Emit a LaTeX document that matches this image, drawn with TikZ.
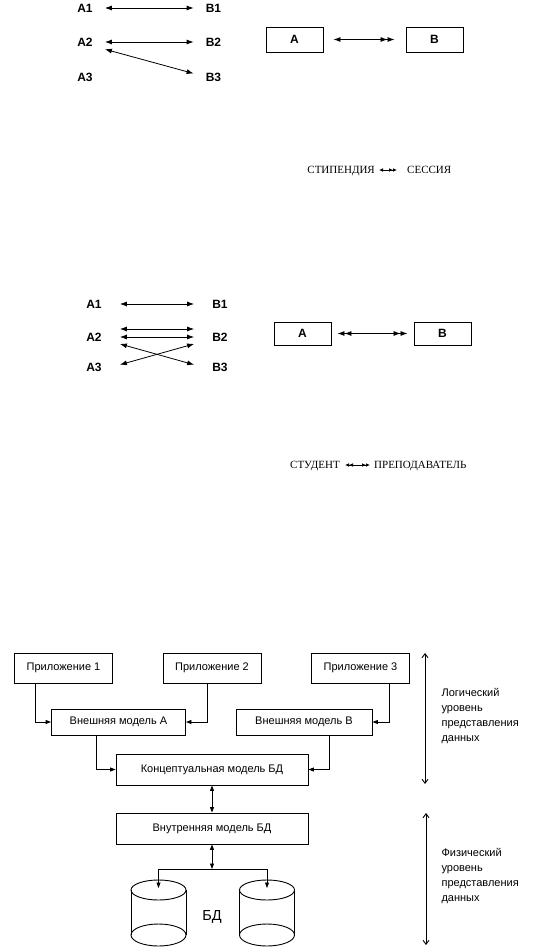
\documentclass[tikz,border=0pt]{standalone}
\usepackage{fontspec}
\setmainfont{Liberation Sans}
\newfontfamily\cyrserif{Liberation Serif}
\usepackage{tikz}
\usetikzlibrary{
    arrows.meta
}
\tikzset{
    lbl/.style={
        font=\fontsize{12}{14}\selectfont\bfseries,
        inner xsep=12pt,
        inner ysep=3.5pt,
        text height=8.6pt,
        text depth=0pt
    },
    abox/.style={
        rectangle,
        draw=black,
        line width=0.9pt,
        minimum width=57pt,
        font=\fontsize{12}{14}\selectfont\bfseries
    },
    word/.style={
        inner sep=0pt,
        text height=7pt,
        text depth=0pt,
        font=\cyrserif\fontsize{11}{13}\selectfont
    },
    link/.style={
        >={Latex[length=7pt,width=5pt]},
        line width=0.8pt
    },
    wordlink/.style={
        >={Latex[length=4pt,width=3.5pt]},
        line width=0.7pt
    },
    block/.style={
        rectangle,
        draw=black,
        line width=0.9pt,
        align=center,
        font=\fontsize{11}{13}\selectfont
    },
    conn/.style={
        -{Triangle[length=5.5pt,width=4pt]},
        line width=0.9pt
    },
    biconn/.style={
        {Triangle[length=5.5pt,width=4pt]}-{Triangle[length=5.5pt,width=4pt]},
        line width=0.9pt
    },
    span/.style={
        {Straight Barb[length=4pt,width=6pt]}-{Straight Barb[length=4pt,width=6pt]},
        line width=0.9pt
    },
    side/.style={
        align=left,
        font=\fontsize{11}{15}\selectfont
    },
    cyl/.style={
        line width=0.9pt
    }
}

\begin{document}
\begin{tikzpicture}[x=1pt,y=-1pt]
\useasboundingbox (0,0) rectangle (543,949);

% one to one
\node[lbl] (a1) at (85,8) {A1};
\node[lbl] (a2) at (85,42) {A2};
\node[lbl] (a3) at (85,77) {A3};
\node[lbl] (b1) at (213.5,8) {B1};
\node[lbl] (b2) at (213.5,42) {B2};
\node[lbl] (b3) at (213.5,77) {B3};
\draw[link, <->] (a1) -- (b1);
\draw[link, <->] (a2) -- (b2);
\draw[link, <->] (a2.-20) -- (b3.170);

\node[abox, minimum height=25pt] (boxa) at (294.5,39.5) {A};
\node[abox, minimum height=25pt] (boxb) at (434.5,39.5) {B};
\draw[link, <->>, shorten <=10pt, shorten >=11pt] (boxa) -- (boxb);

\node[word, anchor=east] (grant) at (375,170) {СТИПЕНДИЯ};
\node[word, anchor=west] (exam) at (407,170) {СЕССИЯ};
\draw[wordlink, <->>, shorten <=4pt, shorten >=10pt] (grant) -- (exam);

% many to many
\begin{scope}[lbl/.append style={inner xsep=18pt}]
\node[lbl] (c1) at (94,304) {A1};
\node[lbl] (c2) at (94,337) {A2};
\node[lbl] (c3) at (94,367) {A3};
\node[lbl] (d1) at (220,304) {B1};
\node[lbl] (d2) at (220,337) {B2};
\node[lbl] (d3) at (220,367) {B3};
\end{scope}
\draw[link, <->] (c1) -- (d1);
\draw[link, <->] ([yshift=8pt]c2.east) -- ([yshift=8pt]d2.west);
\draw[link, <->] (c2) -- (d2);
\draw[link, <->] (c2.-15) -- (d3.175);
\draw[link, <->] (c3.5) -- (d2.195);

\node[abox, minimum height=23pt] (boxc) at (302.5,333.5) {A};
\node[abox, minimum height=23pt] (boxd) at (442.5,333.5) {B};
\draw[link, <<->>, shorten <=6pt, shorten >=6pt] (boxc) -- (boxd);

\node[word, anchor=east] (stud) at (340,465) {СТУДЕНТ};
\node[word, anchor=west] (teach) at (374,465) {ПРЕПОДАВАТЕЛЬ};
\draw[wordlink, <<->>, shorten <=5pt, shorten >=4pt] (stud) -- (teach);

% levels of the database
\node[block, minimum width=98pt, minimum height=30pt] (app1) at (63.5,668) {Приложение 1};
\node[block, minimum width=98pt, minimum height=30pt] (app2) at (212,668) {Приложение 2};
\node[block, minimum width=98pt, minimum height=30pt] (app3) at (360.5,668) {Приложение 3};
\node[block, minimum width=134pt, minimum height=26pt] (exta) at (118.5,722) {Внешняя модель А};
\node[block, minimum width=136pt, minimum height=26pt] (extb) at (304,722) {Внешняя модель В};
\node[block, minimum width=192pt, minimum height=31pt] (conc) at (212,769.5) {Концептуальная модель БД};
\node[block, minimum width=192pt, minimum height=31pt] (intm) at (212,828.5) {Внутренняя модель БД};

\draw[conn] ([xshift=-28.5pt]app1.south) |- (exta.west);
\draw[conn] ([xshift=-5pt]app2.south) |- (exta.east);
\draw[conn] ([xshift=28.5pt]app3.south) |- (extb.east);
\draw[conn] ([xshift=-22.5pt]exta.south) |- (conc.west);
\draw[conn] ([xshift=25pt]extb.south) |- (conc.east);
\draw[biconn] (conc) -- (intm);

\coordinate (jn) at (212,869);
\draw[biconn] (intm) -- (jn);

\foreach \cx/\nm in {158.5/dbl, 267/dbr} {
    \draw[cyl] (\cx,890) ellipse [x radius=27.5, y radius=10];
    \draw[cyl] (\cx-27.5,890) -- (\cx-27.5,935);
    \draw[cyl] (\cx+27.5,890) -- (\cx+27.5,935);
    \draw[cyl] (\cx,935) ellipse [x radius=27.5, y radius=11];
    \coordinate (\nm) at (\cx,888);
}
\draw[conn] (jn) -| (dbl);
\draw[conn] (jn) -| (dbr);
\node[font=\fontsize{14.5}{16}\selectfont] (db) at (212,917) {БД};

\coordinate (logtop) at (425,653);
\coordinate (logbot) at (425,784);
\coordinate (phytop) at (426,813);
\coordinate (phybot) at (426,945);
\draw[span] (logtop) -- (logbot);
\draw[span] (phytop) -- (phybot);
\node[side, anchor=west] (logtxt) at (438,716) {Логический\\уровень\\представления\\данных};
\node[side, anchor=west] (phytxt) at (438,876) {Физический\\уровень\\представления\\данных};
\end{tikzpicture}
\end{document}
